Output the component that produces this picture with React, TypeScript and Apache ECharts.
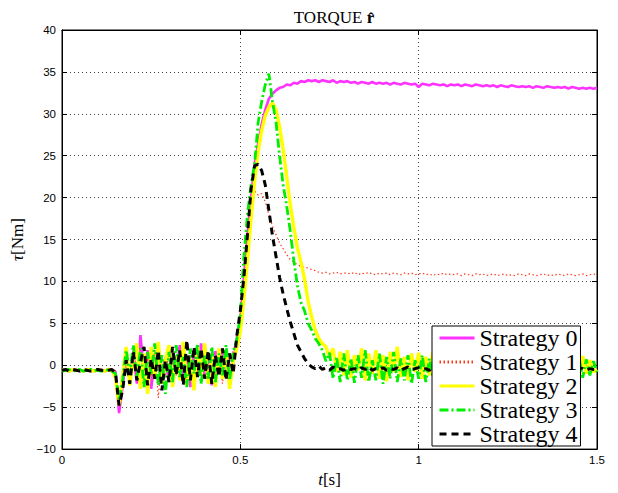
import React, { useEffect, useRef } from "react";
import * as echarts from "echarts";

const times = [
  0, 0.01, 0.02, 0.03, 0.04, 0.05, 0.06, 0.07, 0.08, 0.09,
  0.1, 0.11, 0.12, 0.13, 0.14, 0.15, 0.16, 0.17, 0.18, 0.19,
  0.2, 0.21, 0.22, 0.23, 0.24, 0.25, 0.26, 0.27, 0.28, 0.29,
  0.3, 0.31, 0.32, 0.33, 0.34, 0.35, 0.36, 0.37, 0.38, 0.39,
  0.4, 0.41, 0.42, 0.43, 0.44, 0.45, 0.46, 0.47, 0.48, 0.49,
  0.5, 0.51, 0.52, 0.53, 0.54, 0.55, 0.56, 0.57, 0.58, 0.59,
  0.6, 0.61, 0.62, 0.63, 0.64, 0.65, 0.66, 0.67, 0.68, 0.69,
  0.7, 0.71, 0.72, 0.73, 0.74, 0.75, 0.76, 0.77, 0.78, 0.79,
  0.8, 0.81, 0.82, 0.83, 0.84, 0.85, 0.86, 0.87, 0.88, 0.89,
  0.9, 0.91, 0.92, 0.93, 0.94, 0.95, 0.96, 0.97, 0.98, 0.99,
  1.0, 1.01, 1.02, 1.03, 1.04, 1.05, 1.06, 1.07, 1.08, 1.09,
  1.1, 1.11, 1.12, 1.13, 1.14, 1.15, 1.16, 1.17, 1.18, 1.19,
  1.2, 1.21, 1.22, 1.23, 1.24, 1.25, 1.26, 1.27, 1.28, 1.29,
  1.3, 1.31, 1.32, 1.33, 1.34, 1.35, 1.36, 1.37, 1.38, 1.39,
  1.4, 1.41, 1.42, 1.43, 1.44, 1.45, 1.46, 1.47, 1.48, 1.49,
  1.5,
];

const strategy0 = [
  -0.6, -0.5, -0.7, -0.6, -0.5, -0.7, -0.6, -0.6, -0.5, -0.7,
  -0.6, -0.5, -0.7, -0.6, -0.5, -0.8, -5.7, -2.5, 0.8, -1.8,
  1.5, -2.2, 3.6, -1.0, 1.8, -2.8, 0.6, 2.2, -1.5, 1.0,
  -2.0, 1.6, -1.2, 2.4, -1.8, 0.8, -2.6, 1.9, -0.9, 2.6,
  -1.5, 1.2, -2.4, 1.7, -0.8, 2.0, -1.6, 1.4, 0.2, 3.2,
  5.5, 10.5, 15.5, 20.0, 24.0, 26.5, 28.8, 30.5, 31.8, 32.4,
  32.8, 33.1, 33.2, 33.5, 33.4, 33.7, 33.6, 33.9, 33.8, 34.0,
  33.9, 34.0, 33.8, 34.0, 33.9, 33.8, 34.0, 33.7, 33.9, 33.8,
  33.9, 33.7, 33.8, 33.6, 33.8, 33.7, 33.6, 33.8, 33.6, 33.7,
  33.6, 33.7, 33.5, 33.7, 33.6, 33.5, 33.7, 33.6, 33.5, 33.6,
  33.2, 33.6, 33.5, 33.4, 33.6, 33.5, 33.4, 33.5, 33.3, 33.5,
  33.4, 33.5, 33.3, 33.5, 33.4, 33.3, 33.5, 33.4, 33.3, 33.4,
  33.3, 33.4, 33.2, 33.4, 33.3, 33.2, 33.4, 33.3, 33.2, 33.3,
  33.2, 33.3, 33.1, 33.3, 33.2, 33.1, 33.3, 33.2, 33.1, 33.2,
  33.1, 33.2, 33.0, 33.2, 33.1, 33.0, 33.1, 33.0, 33.1, 33.0,
  33.1,
];

const strategy1 = [
  -0.6, -0.7, -0.5, -0.6, -0.7, -0.5, -0.6, -0.7, -0.5, -0.6,
  -0.7, -0.5, -0.6, -0.7, -0.5, -0.6, -4.6, -2.0, 1.2, -1.5,
  2.0, -1.8, 1.4, -2.6, 0.9, -1.2, 2.2, -3.9, 1.0, -1.4,
  1.8, -2.0, 0.8, -1.6, 2.0, -1.2, 1.2, -2.2, 1.6, -0.8,
  1.4, -1.8, 2.0, -1.0, 1.6, -2.2, 1.0, -0.6, 1.8, 3.2,
  5.8, 10.5, 15.5, 18.5, 20.8, 20.3, 20.5, 19.5, 18.0, 16.6,
  15.6, 14.6, 13.9, 13.2, 12.6, 12.3, 12.0, 11.8, 11.7, 11.6,
  11.4, 11.3, 11.1, 11.0, 11.1, 10.9, 11.0, 11.1, 10.9, 11.0,
  11.0, 10.9, 11.1, 10.8, 11.0, 10.9, 11.1, 10.9, 10.8, 11.0,
  10.9, 11.0, 10.8, 11.0, 10.9, 10.8, 11.0, 10.9, 11.0, 10.8,
  10.9, 11.0, 10.8, 10.9, 10.7, 10.9, 10.8, 11.0, 10.8, 10.9,
  10.8, 10.9, 10.7, 10.9, 10.8, 10.7, 10.9, 10.8, 10.9, 10.7,
  10.8, 10.9, 10.7, 10.8, 10.9, 10.7, 10.8, 10.7, 10.9, 10.8,
  10.7, 10.9, 10.8, 10.7, 10.8, 10.9, 10.7, 10.8, 10.7, 10.9,
  10.8, 10.7, 10.9, 10.8, 10.7, 10.8, 10.9, 10.7, 10.8, 10.9,
  10.8,
];

const strategy2 = [
  -0.5, -0.6, -0.7, -0.5, -0.6, -0.6, -0.7, -0.5, -0.6, -0.7,
  -0.5, -0.6, -0.7, -0.5, -0.6, -1.5, -4.8, -1.2, 2.2, -2.4,
  0.8, 2.6, -2.8, 1.4, -3.4, 2.2, -1.6, 2.8, -2.2, 0.6,
  2.4, -2.6, 1.2, -1.8, 2.8, -2.4, 0.8, -3.0, 2.2, -1.2,
  2.6, -2.2, 1.0, -2.6, 2.0, -1.6, 1.8, -2.8, 0.4, 2.0,
  4.0, 8.0, 12.5, 17.5, 22.0, 25.5, 28.0, 29.8, 30.8, 31.3,
  30.5, 28.5, 25.8, 22.5, 19.2, 16.5, 14.0, 12.3, 10.3, 7.6,
  5.8, 4.2, 3.2, 2.6, 2.2, 1.0, 2.0, -0.8, 1.6, -1.2,
  1.8, -1.5, 1.2, -0.6, 2.0, -1.8, 1.4, -1.0, 1.8, -1.6,
  1.2, -1.9, 1.6, -0.8, 2.2, -1.4, 1.0, -1.8, 1.4, -0.8,
  1.5, -1.6, 1.0, -1.2, 1.6, -1.4, 0.8, -1.7, 1.2, -1.0,
  1.4, -1.5, 0.9, -1.3, 1.5, -1.2, 1.1, -1.6, 0.8, -1.1,
  1.3, -1.4, 1.0, -1.5, 1.2, -1.0, 1.4, -1.3, 0.9, -1.2,
  1.2, -1.6, 1.0, -1.1, 1.3, -1.4, 0.8, -1.2, 1.1, -1.5,
  1.0, -1.3, 1.2, -1.1, 0.9, -1.4, 1.1, -1.0, 0.6, -0.8,
  -0.5,
];

const strategy3 = [
  -0.7, -0.6, -0.5, -0.7, -0.6, -0.5, -0.7, -0.6, -0.5, -0.6,
  -0.6, -0.7, -0.5, -0.6, -0.7, -1.0, -4.2, -1.8, 1.8, -1.0,
  2.4, -1.6, 2.0, -2.6, 1.6, -1.0, 2.6, -2.4, 1.2, -3.4,
  1.6, -2.0, 2.4, -1.4, 1.0, -2.6, 2.0, -1.0, 2.6, -2.2,
  1.2, -1.6, 2.2, -2.0, 1.4, -1.2, 2.4, -1.8, 1.6, 3.0,
  6.0, 13.0, 18.0, 21.5, 24.0, 29.0, 31.5, 33.5, 34.8, 31.5,
  29.0, 25.0, 21.5, 19.0, 16.0, 12.5, 9.5, 7.5, 6.5, 5.0,
  4.2, 3.2, 2.6, 1.8, 0.5, 1.5, -1.6, 1.0, -2.0, 1.4,
  -1.8, 0.8, -2.1, 1.2, -1.5, 1.8, -2.0, 0.6, -1.8, 1.4,
  -2.2, 1.0, -1.6, 1.6, -2.0, 0.8, -1.8, 1.2, -2.2, 0.6,
  -1.6, 1.2, -2.0, 0.8, -1.4, 1.0, -1.8, 1.2, -1.5, 0.7,
  -1.7, 1.0, -1.9, 0.9, -1.4, 1.1, -1.6, 0.8, -1.8, 1.0,
  -1.5, 0.9, -1.7, 1.1, -1.6, 0.8, -1.4, 1.0, -1.8, 0.9,
  -1.6, 1.0, -1.5, 0.8, -1.7, 1.1, -1.4, 0.9, -1.6, 1.0,
  -1.5, 0.8, -1.6, 1.0, -1.3, 0.9, -1.5, 0.7, -1.2, 0.5,
  -0.8,
];

const strategy4 = [
  -0.6, -0.5, -0.7, -0.5, -0.6, -0.7, -0.5, -0.6, -0.7, -0.6,
  -0.5, -0.6, -0.7, -0.6, -0.5, -0.9, -4.8, -3.0, 0.6, -2.2,
  1.6, -1.8, 0.4, 2.2, -2.4, 0.8, -1.6, 1.8, -3.0, 0.6,
  -2.0, 2.2, -1.2, 1.8, -2.4, 3.0, -1.8, 2.2, -1.4, 2.0,
  -1.6, 1.8, -2.2, 1.2, -1.4, 2.0, -1.8, 1.4, -1.0, 3.5,
  6.5, 10.5, 15.5, 21.0, 23.8, 24.0, 23.2, 21.5, 18.5, 15.5,
  13.0, 10.5, 8.5, 6.8, 5.2, 3.8, 2.4, 1.6, 0.8, 0.2,
  -0.2, -0.4, -0.1, -0.5, -0.3, -0.6, -0.2, -0.5, -0.4, -0.6,
  -0.3, -0.5, -0.4, -0.6, -0.3, -0.5, -0.2, -0.6, -0.4, -0.5,
  -0.3, -0.6, -0.4, -0.5, -0.3, -0.6, -0.4, -0.2, -0.5, -0.4,
  -0.3, -0.5, -0.4, -0.6, -0.3, -0.5, -0.4, -0.2, -0.5, -0.4,
  -0.3, -0.6, -0.4, -0.5, -0.3, -0.5, -0.4, -0.6, -0.3, -0.5,
  -0.4, -0.5, -0.3, -0.6, -0.4, -0.5, -0.3, -0.5, -0.4, -0.6,
  -0.3, -0.5, -0.4, -0.6, -0.3, -0.4, -0.5, -0.3, -0.6, -0.4,
  -0.5, -0.3, -0.6, -0.4, -0.5, -0.3, -0.4, -0.6, -0.4, -0.5,
  -0.5,
];

const seriesNames = ["Strategy 0", "Strategy 1", "Strategy 2", "Strategy 3", "Strategy 4"];
const seriesValues = [strategy0, strategy1, strategy2, strategy3, strategy4];
const seriesColors = ["#ff33ff", "#ff3a1a", "#ffff00", "#00ee00", "#000000"];
const seriesWidths = [2.6, 1.2, 3.4, 2.8, 3];
const seriesTypes: any[] = ["solid", [1.5, 2.5], "solid", [9, 3, 2, 3], [7, 5]];

export default function App() {
  const ref = useRef<HTMLDivElement>(null);
  useEffect(() => {
    if (!ref.current) return;
    const chart = echarts.init(ref.current, null, { renderer: "svg" });
    const tickLabel = { fontFamily: "Liberation Sans", fontSize: 11.5, color: "#000" };
    const split = { show: true, lineStyle: { color: "#444", width: 1, type: [1, 3] as any } };
    const option: any = {
      animation: false,
      backgroundColor: "#fff",
      title: {
        text: "{a|TORQUE }{b|r\u0302}",
        left: 329,
        top: 4,
        textAlign: "center",
        textStyle: {
          fontWeight: "normal",
          rich: {
            a: { fontFamily: "Liberation Serif", fontSize: 17, fontWeight: "normal", color: "#000" },
            b: { fontFamily: "Liberation Serif", fontSize: 17, fontWeight: "bold", color: "#000" },
          },
        },
      },
      grid: { left: 62, right: 21, top: 30, bottom: 41, show: true, borderColor: "#000", borderWidth: 1 },
      legend: {
        orient: "vertical",
        left: 432,
        top: 326,
        data: seriesNames,
        backgroundColor: "#fff",
        borderColor: "#000",
        borderWidth: 1,
        borderRadius: 0,
        padding: [0, 3, 0, 6],
        itemGap: 0,
        itemWidth: 35,
        itemHeight: 14,
        itemStyle: { opacity: 0 },
        lineStyle: { width: 3 },
        textStyle: { fontFamily: "Liberation Serif", fontSize: 24, color: "#000", width: 112 },
      },
      xAxis: [
        {
          type: "value",
          min: 0,
          max: 1.5,
          interval: 0.5,
          name: "{i|t}[s]",
          nameLocation: "middle",
          nameGap: 18,
          nameTextStyle: {
            fontFamily: "Liberation Serif",
            fontSize: 17,
            color: "#000",
            rich: { i: { fontFamily: "Liberation Serif", fontSize: 17, fontStyle: "italic", color: "#000" } },
          },
          axisLine: { show: true, onZero: false, lineStyle: { color: "#000" } },
          axisTick: { show: true, inside: true, length: 5, lineStyle: { color: "#000" } },
          axisLabel: { ...tickLabel, margin: 5 },
          splitLine: split,
        },
        {
          type: "value",
          position: "top",
          min: 0,
          max: 1.5,
          interval: 0.5,
          axisLine: { show: true, onZero: false, lineStyle: { color: "#000" } },
          axisTick: { show: true, inside: true, length: 5, lineStyle: { color: "#000" } },
          axisLabel: { show: false },
          splitLine: { show: false },
        },
      ],
      yAxis: [
        {
          type: "value",
          min: -10,
          max: 40,
          interval: 5,
          name: "{i|\u03c4}[Nm]",
          nameLocation: "middle",
          nameGap: 30,
          nameTextStyle: {
            fontFamily: "Liberation Serif",
            fontSize: 17,
            color: "#000",
            rich: { i: { fontFamily: "Liberation Serif", fontSize: 17, fontStyle: "italic", color: "#000" } },
          },
          axisLine: { show: true, onZero: false, lineStyle: { color: "#000" } },
          axisTick: { show: true, inside: true, length: 5, lineStyle: { color: "#000" } },
          axisLabel: { ...tickLabel, margin: 6, formatter: (v: number) => String(v).replace("-", "\u2212") },
          splitLine: split,
        },
        {
          type: "value",
          position: "right",
          min: -10,
          max: 40,
          interval: 5,
          axisLine: { show: true, onZero: false, lineStyle: { color: "#000" } },
          axisTick: { show: true, inside: true, length: 5, lineStyle: { color: "#000" } },
          axisLabel: { show: false },
          splitLine: { show: false },
        },
      ],
      series: seriesNames.map((name, i) => ({
        name,
        type: "line",
        xAxisIndex: 0,
        yAxisIndex: 0,
        symbol: "none",
        showSymbol: false,
        data: times.map((t, k) => [t, seriesValues[i][k]]),
        lineStyle: { color: seriesColors[i], width: seriesWidths[i], type: seriesTypes[i] },
        itemStyle: { color: seriesColors[i] },
        z: 2 + i * 0.1,
      })),
    };
    chart.setOption(option);
    return () => chart.dispose();
  }, []);
  return <div ref={ref} style={{ width: 618, height: 493, position: "absolute", left: 0, top: 0 }} />;
}
